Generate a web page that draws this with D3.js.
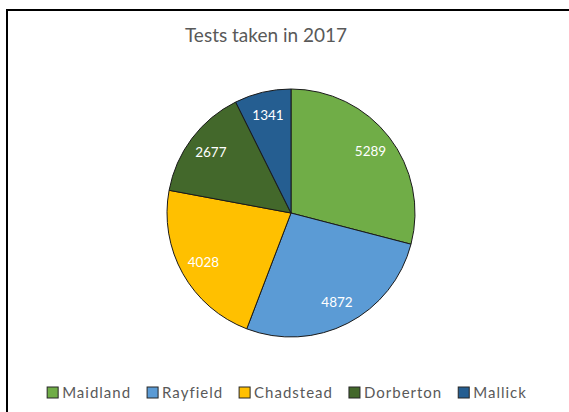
<!DOCTYPE html>
<html>
<head>
<meta charset="utf-8">
<script src="https://cdn.jsdelivr.net/npm/d3@7"></script>
<style>
  body { margin: 0; background: #fff; }
  svg { display: block; }
</style>
</head>
<body>
<svg id="chart" width="569" height="412"></svg>
<script>
const title = 'Tests taken in 2017'
const towns = ['Maidland', 'Rayfield', 'Chadstead', 'Dorberton', 'Mallick']
const tests = [5289, 4872, 4028, 2677, 1341]
const colours = ['#70ad47', '#5b9bd5', '#ffc000', '#43682b', '#255e91']

const font = 'Lato, "Open Sans", sans-serif'

const svg = d3.select('#chart')
const width = +svg.attr('width')
const height = +svg.attr('height')

// chart area frame (runs off the right and bottom edges)
svg.append('rect')
  .attr('x', 7)
  .attr('y', 10)
  .attr('width', width)
  .attr('height', height)
  .attr('fill', '#fff')
  .attr('stroke', '#000')
  .attr('stroke-width', 2)

svg.append('text')
  .text(title)
  .attr('x', 266)
  .attr('y', 42)
  .attr('text-anchor', 'middle')
  .attr('font-family', font)
  .attr('font-size', 19)
  .attr('fill', '#595959')

const data = towns.map((t, i) => ({town: t, value: tests[i]}))

const cx = 291, cy = 213, radius = 124

const color = d3.scaleOrdinal()
  .domain(towns)
  .range(colours)

const pie = d3.pie()
  .value(d => d.value)
  .sort(null)

const arc = d3.arc()
  .innerRadius(0)
  .outerRadius(radius)

const labelArc = d3.arc()
  .innerRadius(radius * 0.81)
  .outerRadius(radius * 0.81)

const g = svg.append('g')
  .attr('transform', `translate(${cx}, ${cy})`)

const arcs = pie(data)

g.selectAll('.slice')
  .data(arcs)
  .enter()
  .append('path')
  .attr('class', 'slice')
  .attr('d', arc)
  .attr('fill', d => color(d.data.town))
  .attr('stroke', '#1a1a1a')
  .attr('stroke-width', 1)

g.selectAll('.label')
  .data(arcs)
  .enter()
  .append('text')
  .attr('class', 'label')
  .attr('transform', d => `translate(${labelArc.centroid(d)})`)
  .attr('dy', '0.35em')
  .attr('text-anchor', 'middle')
  .attr('font-family', font)
  .attr('font-size', 13.5)
  .attr('fill', '#fff')
  .text(d => d.data.value)

// legend, laid out left to right then centred
const legend = svg.append('g')
const items = legend.selectAll('.item')
  .data(towns)
  .enter()
  .append('g')
  .attr('class', 'item')

items.append('rect')
  .attr('width', 11)
  .attr('height', 11)
  .attr('y', -11)
  .attr('fill', d => color(d))
  .attr('stroke', '#262626')
  .attr('stroke-width', 1)

items.append('text')
  .text(d => d)
  .attr('x', 15)
  .attr('y', 0)
  .attr('font-family', font)
  .attr('font-size', 15)
  .attr('letter-spacing', 1)
  .attr('fill', '#595959')

let xpos = 0
items.each(function() {
  const w = 15 + this.querySelector('text').getComputedTextLength()
  d3.select(this).attr('transform', `translate(${xpos}, 0)`)
  xpos += w + 16
})
const total = xpos - 16
legend.attr('transform', `translate(${287 - total / 2}, 398)`)
</script>
</body>
</html>
